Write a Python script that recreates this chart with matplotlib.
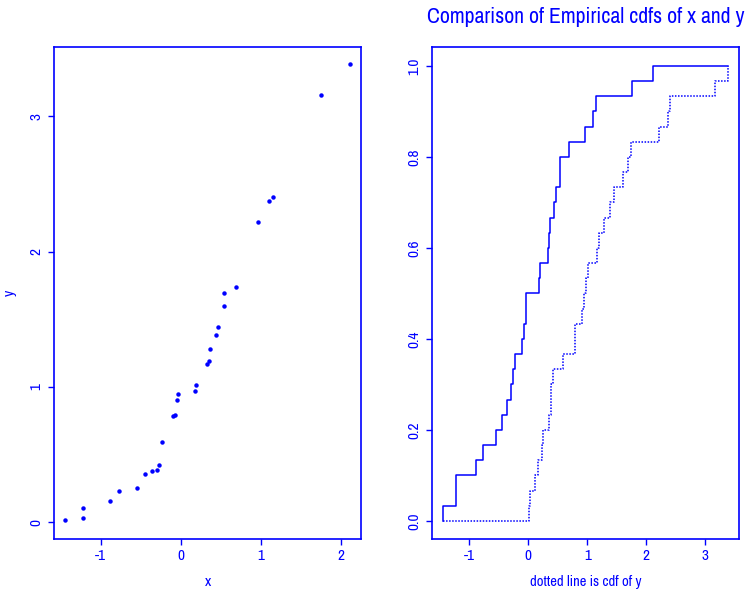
import numpy as np
from matplotlib import pyplot as plt

# paired sample, x and y
x = [-1.442, -1.217, -1.217, -0.888, -0.771, -0.542, -0.442, -0.358, -0.296, -0.267,
     -0.233, -0.100, -0.067, -0.042, -0.033, 0.183, 0.192, 0.329, 0.358, 0.371,
     0.442, 0.471, 0.537, 0.546, 0.696, 0.962, 1.104, 1.154, 1.758, 2.117]
y = [0.019, 0.034, 0.106, 0.160, 0.234, 0.253, 0.359, 0.379, 0.387, 0.426,
     0.593, 0.786, 0.793, 0.904, 0.948, 0.970, 1.015, 1.170, 1.194, 1.283,
     1.387, 1.446, 1.601, 1.697, 1.741, 2.219, 2.375, 2.404, 3.160, 3.387]

left_xticks = [-1, 0, 1, 2]
left_yticks = [0, 1, 2, 3]
right_xticks = [-1, 0, 1, 2, 3]
right_yticks = [0.0, 0.2, 0.4, 0.6, 0.8, 1.0]

col = 'blue'
plt.rcParams['font.family'] = ['Archivo Narrow', 'Liberation Sans', 'DejaVu Sans']
plt.rcParams['font.size'] = 11
plt.rcParams['axes.unicode_minus'] = False


def style_axes(ax):
    for s in ax.spines.values():
        s.set_color(col)
        s.set_linewidth(1.2)
    ax.tick_params(colors=col, direction='out', length=4, width=1, labelsize=11)
    for lab in ax.get_yticklabels():
        lab.set_rotation(90)
        lab.set_va('center')


def ecdf_steps(d, lo, hi):
    d = np.sort(d)
    n = len(d)
    xs = np.concatenate([[lo], d, [hi]])
    ys = np.concatenate([[0], np.arange(1, n + 1) / n, [1]])
    return xs, ys


fig = plt.figure(figsize=(7.51, 5.92), dpi=100)

# scatter of y against x
ax1 = fig.add_axes([0.0719, 0.0895, 0.4092, 0.8316])
ax1.plot(x, y, 'o', color=col, markersize=2.2)
ax1.set_xlim(-1.584, 2.258)
ax1.set_ylim(-0.123, 3.515)
ax1.set_xticks(left_xticks)
ax1.set_yticks(left_yticks)
ax1.set_xlabel('x', color=col, fontsize=11, labelpad=8)
ax1.set_ylabel('y', color=col, fontsize=11)
ax1.yaxis.set_label_coords(-0.12, 0.5)
style_axes(ax1)

# empirical cdfs over the pooled range
ax2 = fig.add_axes([0.5748, 0.0895, 0.4092, 0.8316])
lo = min(min(x), min(y))
hi = max(max(x), max(y))
xs, ys = ecdf_steps(x, lo, hi)
ax2.step(xs, ys, where='post', color=col, lw=1.1)
xs, ys = ecdf_steps(y, lo, hi)
ax2.step(xs, ys, where='post', color=col, lw=1.1, linestyle=(0, (1, 1)))
ax2.set_xlim(-1.637, 3.571)
ax2.set_ylim(-0.0396, 1.042)
ax2.set_xticks(right_xticks)
ax2.set_yticks(right_yticks)
ax2.set_yticklabels(['%.1f' % v for v in right_yticks])
ax2.set_xlabel('dotted line is cdf of y', color=col, fontsize=10.5, labelpad=8)
ax2.set_title('Comparison of Empirical cdfs of x and y', color=col, fontsize=15.7, pad=17)
style_axes(ax2)

plt.savefig('out.png', dpi=100)
